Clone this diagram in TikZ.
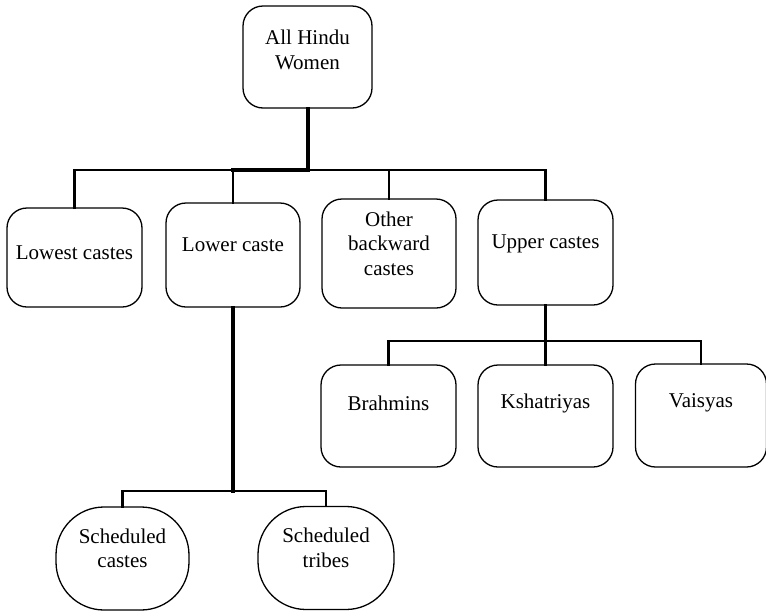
\documentclass[tikz,border=0pt]{standalone}
\usepackage{fontspec}
\setmainfont{Liberation Serif}
\begin{document}
\begin{tikzpicture}[x=1pt,y=-1pt,
  every node/.style={font=\fontsize{21}{24.5}\selectfont, align=center},
  box/.style={draw, line width=1.3pt, rounded corners=20pt, inner sep=0pt},
  oval/.style={draw, line width=1.3pt, rounded corners=48pt, inner sep=0pt},
  conn/.style={line width=2.6pt, line cap=rect},
  heavy/.style={line width=4pt, line cap=rect},
  semiheavy/.style={line width=3.4pt, line cap=rect}]
\useasboundingbox (0,0) rectangle (766,611);
% level 0
\node[box, minimum width=129pt, minimum height=102pt,
  label={[yshift=7pt]center:All Hindu\\Women}] (top) at (307.5,57) {};
% level 1
\node[box, minimum width=135pt, minimum height=99pt,
  label={[yshift=5pt]center:Lowest castes}] (lowest) at (74.5,257.5) {};
\node[box, minimum width=134pt, minimum height=104pt,
  label={[yshift=10pt]center:Lower caste}] (lower) at (233,255) {};
\node[box, minimum width=134pt, minimum height=109pt,
  label={[yshift=10pt]center:Other\\backward\\castes}] (obc) at (389,253.5) {};
\node[box, minimum width=135pt, minimum height=105pt,
  label={[yshift=9pt]center:Upper castes}] (upper) at (545.5,252.5) {};
% level 2 (upper castes)
\node[box, minimum width=135pt, minimum height=102pt,
  label={[yshift=13pt]center:Brahmins}] (brah) at (388.5,416) {};
\node[box, minimum width=135pt, minimum height=102pt,
  label={[yshift=13pt]center:Kshatriyas}] (ksha) at (545.5,416) {};
\node[box, minimum width=131pt, minimum height=103pt,
  label={[yshift=13pt]center:Vaisyas}] (vais) at (701,415.5) {};
% level 2 (lower caste)
\node[oval, minimum width=133pt, minimum height=103pt,
  label={[yshift=10pt]center:Scheduled\\castes}] (sc) at (122.5,558.5) {};
\node[oval, minimum width=136pt, minimum height=103pt,
  label={[yshift=10pt]center:Scheduled\\tribes}] (st) at (326,558) {};
% bars
\coordinate (barA) at (0,170);
\coordinate (barB) at (0,341);
\coordinate (barC) at (0,491);
% connectors
\draw[conn] (lowest.north) -- (lowest.north |- barA) -- (upper.north |- barA) -- (upper.north);
\draw[conn] (lower.north) -- (lower.north |- barA);
\draw[conn] (obc.north) -- (obc.north |- barA);
\draw[semiheavy] (lower.north |- barA) -- (top.south |- barA);
\draw[heavy] (top.south) -- (top.south |- barA);
\draw[conn] (upper.south) -- (upper.south |- barB);
\draw[conn] (brah.north) -- (brah.north |- barB) -- (vais.north |- barB) -- (vais.north);
\draw[conn] (ksha.north) -- (ksha.north |- barB);
\draw[heavy] (lower.south) -- (lower.south |- barC);
\draw[conn] (sc.north) -- (sc.north |- barC) -- (st.north |- barC) -- (st.north);
\end{tikzpicture}
\end{document}
